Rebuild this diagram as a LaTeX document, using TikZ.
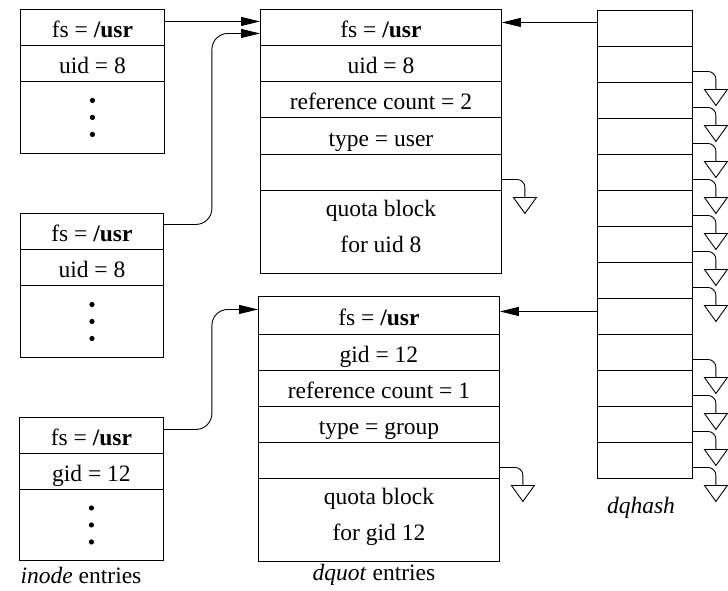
\documentclass[tikz,border=0pt]{standalone}
\usepackage{fontspec}
\setmainfont{Liberation Serif}
\usetikzlibrary{arrows.meta}
\begin{document}
\begin{tikzpicture}[x=1pt,y=-1pt,line width=0.9pt,
  txt/.style={font=\fontsize{23.5}{36}\selectfont},
  cell/.style={draw,anchor=north west,inner sep=0pt,txt,text height=21pt,text depth=0pt},
  qtxt/.style={txt,align=center,inner sep=0pt},
  arr/.style={-{Triangle[length=19pt,width=9pt]}},
  gnd/.pic={\draw[rounded corners=8pt] (0,0) -- (23,0) -- (23,18);
            \draw (11.5,18) -- (34.5,18) -- (23,34) -- cycle;}]
\useasboundingbox (0,0) rectangle (728,590);
% inode entries
\node[cell,minimum width=144pt,minimum height=36pt] (i1fs) at (20,9) {fs = \textbf{/usr}};
\node[cell,minimum width=144pt,minimum height=36pt] (i1id) at (20,45) {uid = 8};
\node[cell,minimum width=144pt,minimum height=72pt] (i1dots) at (20,81) {};
\node[cell,minimum width=143pt,minimum height=36pt] (i2fs) at (20,213) {fs = \textbf{/usr}};
\node[cell,minimum width=143pt,minimum height=36pt] (i2id) at (20,249) {uid = 8};
\node[cell,minimum width=143pt,minimum height=72pt] (i2dots) at (20,285) {};
\node[cell,minimum width=144pt,minimum height=36pt] (i3fs) at (19,417) {fs = \textbf{/usr}};
\node[cell,minimum width=144pt,minimum height=36pt] (i3id) at (19,453) {gid = 12};
\node[cell,minimum width=144pt,minimum height=71pt] (i3dots) at (19,489) {};
\foreach \b in {i1dots,i2dots,i3dots}
  \foreach \d in {-17,0,17}
    \fill ([yshift=\d pt]\b.center) circle (2.6pt);
% dquot entries
\node[cell,minimum width=241pt,minimum height=36pt] (d1fs) at (260,9) {fs = \textbf{/usr}};
\node[cell,minimum width=241pt,minimum height=36pt] (d1id) at (260,45) {uid = 8};
\node[cell,minimum width=241pt,minimum height=36pt] (d1rc) at (260,81) {reference count = 2};
\node[cell,minimum width=241pt,minimum height=37pt] (d1ty) at (260,117) {type = user};
\node[cell,minimum width=241pt,minimum height=36pt] (d1em) at (260,154) {};
\node[cell,minimum width=241pt,minimum height=83pt] (d1qb) at (260,190) {};
\node[qtxt] (d1qt) at ([yshift=5pt]d1qb.center) {quota block\\for uid 8};
\node[cell,minimum width=241pt,minimum height=38pt] (d2fs) at (258,296) {fs = \textbf{/usr}};
\node[cell,minimum width=241pt,minimum height=36pt] (d2id) at (258,334) {gid = 12};
\node[cell,minimum width=241pt,minimum height=36pt] (d2rc) at (258,370) {reference count = 1};
\node[cell,minimum width=241pt,minimum height=36pt] (d2ty) at (258,406) {type = group};
\node[cell,minimum width=241pt,minimum height=36pt] (d2em) at (258,442) {};
\node[cell,minimum width=241pt,minimum height=83pt] (d2qb) at (258,478) {};
\node[qtxt] (d2qt) at ([yshift=3pt]d2qb.center) {quota block\\for gid 12};
% dqhash
\foreach \i in {1,...,13}
  \node[cell,minimum width=95pt,minimum height=36pt] (h\i) at (597,{10+36*(\i-1)}) {};
% labels
\node[txt] (linode) at (81,575) {\textit{inode} entries};
\node[txt] (ldquot) at (374,575) {\textit{dquot} entries};
\node[txt] (lhash) at (641,508) {\textit{dqhash}};
% connectors
\draw[arr] ([yshift=6pt]i1fs.east) -- ([yshift=6pt]i1fs.east -| d1fs.west);
\draw[arr,rounded corners=16pt] ([yshift=7pt]i2fs.east) -- ++(48,0) |- ([yshift=-6pt]d1fs.west);
\draw[arr,rounded corners=16pt] ([yshift=6pt]i3fs.east) -- ++(48,0) |- ([yshift=6pt]d2fs.west);
\draw[arr] ([yshift=6pt]h1.west) -- ([yshift=6pt]h1.west -| d1fs.east);
\draw[arr] ([yshift=5pt]h9.west) -- ([yshift=5pt]h9.west -| d2fs.east);
% null pointers
\pic at ([yshift=-7pt]d1em.east) {gnd};
\pic at ([yshift=-7pt]d2em.east) {gnd};
\foreach \i in {2,...,8,10,11,12,13}
  \pic at ([yshift=-7pt]h\i.east) {gnd};
\end{tikzpicture}
\end{document}
